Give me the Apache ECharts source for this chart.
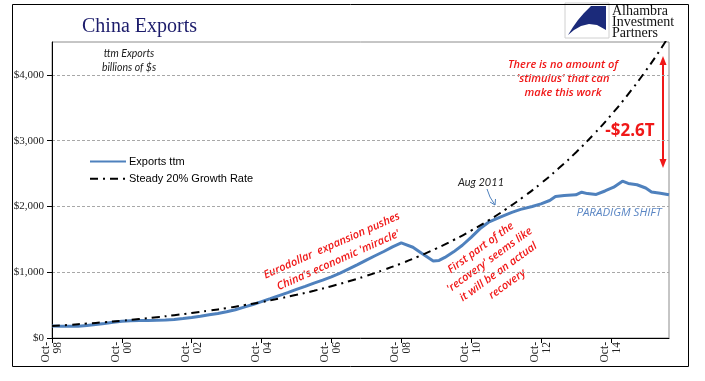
<!DOCTYPE html>
<html><head><meta charset="utf-8">
<script src="https://cdn.jsdelivr.net/npm/echarts@6/dist/echarts.min.js"></script>
<style>html,body{margin:0;padding:0;background:#fff}#c{width:705px;height:381px}</style>
</head><body><div id="c"></div>
<script>
// ---- data ----
const seriesNames = ['Exports ttm', 'Steady 20% Growth Rate'];
const exportDates = ['1998-10','1999-01','1999-04','1999-07','1999-10','2000-01','2000-04','2000-07','2000-10',
  '2001-01','2001-04','2001-07','2001-10','2002-01','2002-04','2002-07','2002-10','2003-01','2003-04','2003-07','2003-10',
  '2004-01','2004-04','2004-07','2004-10','2005-01','2005-04','2005-07','2005-10','2006-01','2006-04','2006-07','2006-10',
  '2007-01','2007-04','2007-07','2007-10','2008-01','2008-04','2008-07','2008-10','2009-02','2009-05','2009-09','2009-11',
  '2010-01','2010-04','2010-07','2010-10','2011-01','2011-04','2011-08','2011-12','2012-03','2012-07','2012-10',
  '2013-01','2013-03','2013-06','2013-10','2013-12','2014-02','2014-05','2014-08','2014-11','2015-02','2015-04',
  '2015-07','2015-10','2015-12','2016-03','2016-06'];
const exportValues = [183,180,177,180,190,205,222,240,255,
  263,266,267,268,272,282,296,312,330,352,372,398,
  430,470,510,552,598,645,690,738,785,835,880,930,
  985,1050,1115,1185,1250,1315,1385,1445,1380,1290,1172,1180,
  1225,1310,1410,1530,1660,1760,1838,1909,1955,2000,2040,
  2090,2150,2165,2177,2217,2195,2182,2235,2293,2384,2350,
  2330,2280,2220,2200,2177];
const growthDates = ['1998-10','1999-04','1999-10','2000-04','2000-10','2001-04','2001-10','2002-04','2002-10',
  '2003-04','2003-10','2004-04','2004-10','2005-04','2005-10','2006-04','2006-10','2007-04','2007-10','2008-04',
  '2008-10','2009-04','2009-10','2010-04','2010-10','2011-04','2011-10','2012-04','2012-10','2013-04','2013-10',
  '2014-04','2014-10','2015-04','2015-10','2016-04','2016-06'];
const growthValues = [183,200,220,240,263,288,316,346,380,
  416,455,499,546,599,656,718,787,862,944,1035,
  1133,1242,1360,1490,1632,1788,1959,2146,2350,2575,2821,
  3090,3385,3708,4062,4450,4600];
const xTickLabels = ['Oct-98','Oct-00','Oct-02','Oct-04','Oct-06','Oct-08','Oct-10','Oct-12','Oct-14'];
const yTickLabels = ['$0','$1,000','$2,000','$3,000','$4,000'];

function monthIndex(d) { const p = d.split('-').map(Number); return (p[0] - 1998) * 12 + (p[1] - 10); }
const exportData = exportDates.map((d, i) => [monthIndex(d), exportValues[i]]);
const growthData = growthDates.map((d, i) => [monthIndex(d), growthValues[i]]);
const lastMonth = monthIndex(exportDates[exportDates.length - 1]);
const xTickValues = xTickLabels.map((s, i) => i * 24);
const yTickValues = yTickLabels.map((s, i) => i * 1000);

const red = '#f01818';
const redFont = {fontFamily: 'Open Sans', fontStyle: 'italic', fontWeight: 600, fontSize: 11, fill: red};

const chart = echarts.init(document.getElementById('c'), null, {renderer: 'canvas'});
chart.setOption({
  animation: false,
  backgroundColor: '#fff',
  title: {
    text: 'China Exports', left: 77, top: 12,
    textStyle: {fontFamily: 'Liberation Serif', fontSize: 20, fontWeight: 'normal', color: '#1c1c6b'}
  },
  legend: {
    orient: 'vertical', left: 89, top: 156, padding: 0, itemWidth: 36, itemHeight: 14, itemGap: 6,
    data: seriesNames,
    itemStyle: {opacity: 0},
    textStyle: {fontFamily: 'Liberation Sans', fontSize: 11, color: '#000', padding: [0, 0, 0, -2]}
  },
  grid: {left: 52, top: 42, right: 36, bottom: 43, show: true, borderColor: '#8c8c8c', borderWidth: 1},
  xAxis: {
    type: 'value', min: 0, max: lastMonth, interval: 24,
    axisLine: {lineStyle: {color: '#000', width: 1}},
    axisTick: {show: true, length: 5, lineStyle: {color: '#000'}, customValues: xTickValues},
    splitLine: {show: false},
    axisLabel: {
      rotate: 90, margin: 4, fontFamily: 'Liberation Serif', fontSize: 11.5, color: '#222', lineHeight: 12,
      customValues: xTickValues,
      formatter: v => (v % 24 === 0 && xTickLabels[v / 24]) ? xTickLabels[v / 24].replace('-', '-\n') : ''
    }
  },
  yAxis: {
    type: 'value', min: 0, max: 4500, interval: 1000,
    axisLine: {show: true, lineStyle: {color: '#000', width: 1}},
    axisTick: {show: true, length: 5, lineStyle: {color: '#000'}, customValues: yTickValues},
    splitLine: {show: true, lineStyle: {color: '#a8a8a8', width: 1, type: [3, 2]}},
    axisLabel: {
      margin: 8, fontFamily: 'Liberation Serif', fontSize: 11, color: '#222',
      customValues: yTickValues,
      formatter: v => (v % 1000 === 0 && yTickLabels[v / 1000]) ? yTickLabels[v / 1000] : ''
    }
  },
  series: [
    {name: seriesNames[0], type: 'line', data: exportData, symbol: 'none', showSymbol: false,
     lineStyle: {color: '#4f81bd', width: 3}, itemStyle: {color: '#4f81bd'}, z: 2},
    {name: seriesNames[1], type: 'line', data: growthData, symbol: 'none', showSymbol: false, smooth: true,
     lineStyle: {color: '#000', width: 2, type: [8, 5, 2, 5]}, itemStyle: {color: '#000'}, z: 3}
  ],
  graphic: [
    // outer frame
    {type: 'rect', shape: {x: 12.5, y: 4.5, width: 676, height: 362}, style: {fill: 'none', stroke: '#000', lineWidth: 1}, z: 100, silent: true},
    // logo
    {type: 'rect', shape: {x: 565, y: 3, width: 44, height: 35}, style: {fill: '#fff', stroke: '#d0d0d0', lineWidth: 1}, z: 50},
    {type: 'polygon', shape: {points: [[606, 6], [591, 6], [584, 13], [578, 20], [573, 27], [568, 35], [574, 30], [581, 26], [589, 24], [597, 25], [606, 30]]}, style: {fill: '#1b2a7a'}, z: 51},
    {type: 'rect', shape: {x: 610, y: 3, width: 76, height: 37}, style: {fill: '#fff'}, z: 50},
    {type: 'text', x: 612, y: 6, style: {text: 'Alhambra\nInvestment\nPartners', fontFamily: 'Liberation Serif', fontSize: 14, lineHeight: 11, fill: '#111'}, z: 52},
    // units
    {type: 'text', x: 129, y: 47, style: {text: 'ttm Exports\nbillions of $s', align: 'center', fontFamily: 'Lato', fontStyle: 'italic', fontSize: 10.5, lineHeight: 14, fill: '#222'}},
    // red annotations
    {type: 'text', x: 335, y: 253, rotation: 24 * Math.PI / 180,
     style: Object.assign({text: "Eurodollar  expansion pushes\nChina's economic 'miracle'", align: 'center', verticalAlign: 'middle', lineHeight: 16}, redFont)},
    {type: 'text', x: 494, y: 266, rotation: 36 * Math.PI / 180,
     style: Object.assign({text: "First part of the\n'recovery' seems like\nit will be an actual\nrecovery", align: 'center', verticalAlign: 'middle', lineHeight: 15}, redFont)},
    {type: 'text', x: 563, y: 79,
     style: Object.assign({text: "There is no amount of\n'stimulus' that can\nmake this work", align: 'center', verticalAlign: 'middle', lineHeight: 14}, redFont)},
    {type: 'text', x: 630, y: 131, style: {text: '-$2.6T', align: 'center', verticalAlign: 'middle', fontFamily: 'Open Sans', fontWeight: 'bold', fontSize: 17, fill: red}},
    {type: 'line', shape: {x1: 663, y1: 62, x2: 663, y2: 162}, style: {stroke: red, lineWidth: 2}},
    {type: 'polygon', shape: {points: [[663, 56], [659.5, 65], [666.5, 65]]}, style: {fill: red}},
    {type: 'polygon', shape: {points: [[663, 168], [659.5, 159], [666.5, 159]]}, style: {fill: red}},
    // Aug 2011
    {type: 'text', x: 481, y: 182, style: {text: 'Aug 2011', align: 'center', verticalAlign: 'middle', fontFamily: 'Lato', fontStyle: 'italic', fontSize: 11, fill: '#222'}},
    {type: 'polyline', shape: {points: [[487, 189], [490, 197], [495, 205]]}, style: {stroke: '#4f81bd', lineWidth: 1, fill: 'none'}},
    {type: 'polyline', shape: {points: [[490, 202], [495, 205], [495.5, 199]]}, style: {stroke: '#4f81bd', lineWidth: 1, fill: 'none'}},
    // paradigm shift
    {type: 'text', x: 619, y: 213, style: {text: 'PARADIGM SHIFT', align: 'center', verticalAlign: 'middle', fontFamily: 'Open Sans', fontStyle: 'italic', fontSize: 11.5, fill: '#5a86c4'}}
  ]
});
</script></body></html>
